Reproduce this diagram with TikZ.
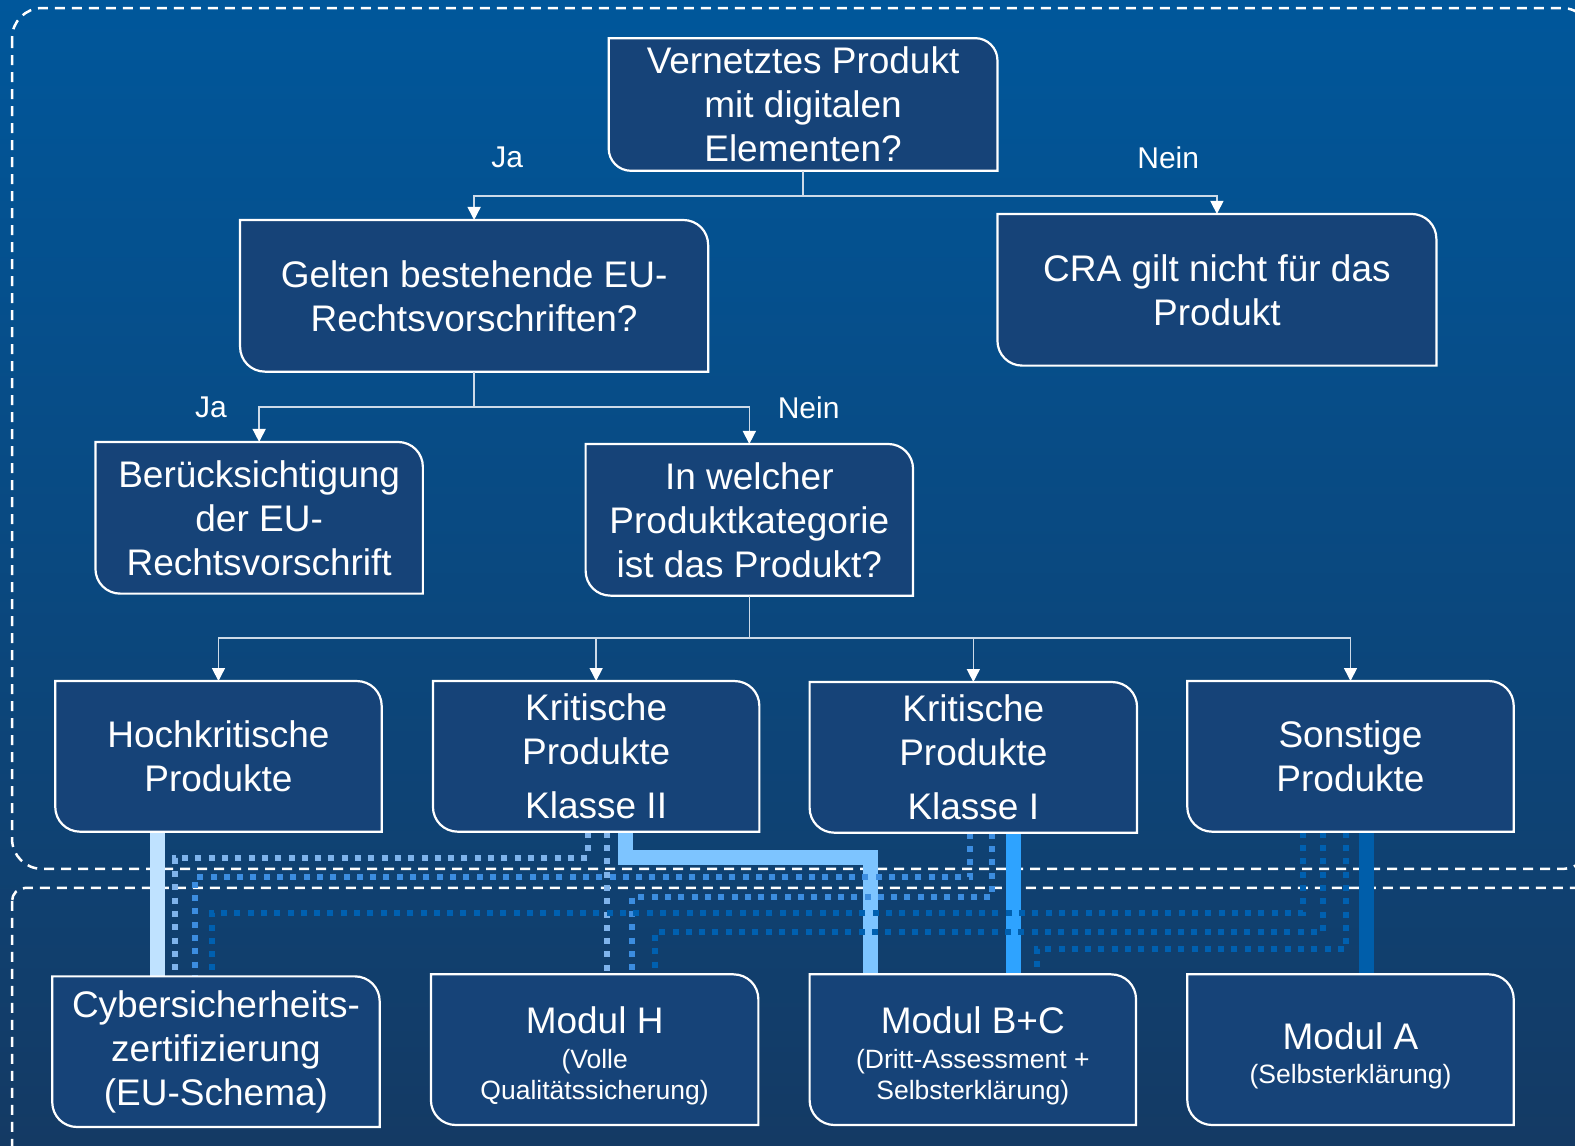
\documentclass[tikz,border=0pt]{standalone}
\usepackage{fontspec}
\setmainfont{Liberation Sans}
\usetikzlibrary{arrows.meta,calc,fit}
\definecolor{bgtop}{RGB}{0,87,155}
\definecolor{bgmid}{RGB}{10,72,128}
\definecolor{bgbot}{RGB}{20,58,100}
\definecolor{boxfill}{RGB}{22,67,120}
\definecolor{connc}{RGB}{205,218,232}
\definecolor{cA}{RGB}{191,226,255}
\definecolor{cB}{RGB}{125,196,255}
\definecolor{cC}{RGB}{46,163,255}
\definecolor{cD}{RGB}{0,94,170}
\definecolor{dA}{RGB}{127,179,235}
\definecolor{dB}{RGB}{60,141,224}
\definecolor{dC}{RGB}{0,96,176}
\newcommand\mainf{\fontsize{37}{44}\selectfont}
\newcommand\subf{\fontsize{26.5}{31}\selectfont}
\newcommand\lblf{\fontsize{30}{36}\selectfont}
\pgfdeclarelayer{bgl}
\pgfdeclarelayer{linel}
\pgfdeclarelayer{boxl}
\pgfsetlayers{bgl,linel,boxl,main}
\tikzset{
 boxnode/.style={inner sep=0pt, outer sep=0pt},
 txt/.style={inner sep=0pt, align=center, text=white, font=\mainf},
 modtxt/.style={txt, yshift=-6pt},
 boxline/.style={draw=white, line width=2.2pt, fill=boxfill},
 conn/.style={draw=connc, line width=1.5pt},
 arr/.style={conn, -{Triangle[width=13pt,length=13pt,fill=white,color=white]}},
 lbl/.style={text=white, font=\lblf, inner sep=0pt},
 thickln/.style={line width=15pt},
 dotln/.style={line width=6pt, dash pattern=on 6pt off 7.3pt},
 region/.style={draw=white, line width=2.5pt, dash pattern=on 10pt off 7pt},
}
% outline with rounded top-right and bottom-left corners
\newcommand\crboxline[3]{%
 \path[boxline] (#1.north west) -- ([xshift=-#2]#1.north east)
   .. controls ([xshift=-#3]#1.north east) and ([yshift=-#3]#1.north east) .. ([yshift=-#2]#1.north east)
   -- (#1.south east) -- ([xshift=#2]#1.south west)
   .. controls ([xshift=#3]#1.south west) and ([yshift=#3]#1.south west) .. ([yshift=#2]#1.south west)
   -- cycle;}
\begin{document}
\begin{tikzpicture}[x=1.00446pt,y=-1.00446pt]
\useasboundingbox (0,0) rectangle (1568,1140);
\begin{pgfonlayer}{bgl}
\shade[top color=bgtop, middle color=bgmid, bottom color=bgbot] (0,0) rectangle (1568,1140);
\draw[region, rounded corners=30pt] (12,8) rectangle (1585,865);
\draw[region, rounded corners=13pt] (12,884) rectangle (1600,1200);
\end{pgfonlayer}

% boxes
\node[boxnode, fit={(606,38) (993,170)}] (b1) {};
\node[boxnode, fit={(239,219) (705,370)}] (b2) {};
\node[boxnode, fit={(993,213) (1430,364)}] (b3) {};
\node[boxnode, fit={(95,440) (421,591)}] (b4) {};
\node[boxnode, fit={(583,442) (909,593)}] (b5) {};
\node[boxnode, fit={(55,678) (380,828)}] (b6) {};
\node[boxnode, fit={(431,678) (756,828)}] (b7) {};
\node[boxnode, fit={(806,679) (1132,829)}] (b8) {};
\node[boxnode, fit={(1182,678) (1507,828)}] (b9) {};
\node[boxnode, fit={(52,972) (378,1122)}] (b10) {};
\node[boxnode, fit={(429,970) (755,1120)}] (b11) {};
\node[boxnode, fit={(806,970) (1131,1120)}] (b12) {};
\node[boxnode, fit={(1182,970) (1507,1120)}] (b13) {};

\begin{pgfonlayer}{boxl}
\crboxline{b1}{22pt}{10pt}
\foreach \n in {b2,b3,b4,b5,b6,b7,b8,b9,b10,b11,b12,b13}{\crboxline{\n}{25pt}{11pt}}
\end{pgfonlayer}

% texts
\node[txt] (t1) at (b1.center) {Vernetztes Produkt\\mit digitalen\\Elementen?};
\node[txt] (t2) at (b2.center) {Gelten bestehende EU-\\Rechtsvorschriften?};
\node[txt] (t3) at (b3.center) {CRA gilt nicht für das\\Produkt};
\node[txt] (t4) at (b4.center) {Berücksichtigung\\der EU-\\Rechtsvorschrift};
\node[txt] (t5) at (b5.center) {In welcher\\Produktkategorie\\ist das Produkt?};
\node[txt] (t6) at (b6.center) {Hochkritische\\Produkte};
\node[txt] (t7) at (b7.center) {Kritische\\Produkte\\[10pt]Klasse II};
\node[txt] (t8) at (b8.center) {Kritische\\Produkte\\[10pt]Klasse I};
\node[txt] (t9) at (b9.center) {Sonstige\\Produkte};
\node[txt] (t10) at (b10.center) {Cybersicherheits-\\zertifizierung\\(EU-Schema)};
\node[modtxt] (t11) at (b11.center) {Modul H\\[-9pt]\subf (Volle\\[-13pt]\subf Qualitätssicherung)};
\node[modtxt] (t12) at (b12.center) {Modul B+C\\[-9pt]\subf (Dritt-Assessment +\\[-13pt]\subf Selbsterklärung)};
\node[modtxt] (t13) at (b13.center) {Modul A\\[-10pt]\subf (Selbsterklärung)};

% labels
\node[lbl] (ja1) at (505,157) {Ja};
\node[lbl] (nein1) at (1163,157) {Nein};
\node[lbl] (ja2) at (210,406) {Ja};
\node[lbl] (nein2) at (805,406) {Nein};

% decision connectors
\coordinate (j1) at (799.5,195);
\coordinate (j2) at (472,405);
\coordinate (j3) at (746,635);
\draw[conn] (b1.south) -- (j1);
\draw[arr] (j1) -| (b2.north);
\draw[arr] (j1) -| (b3.north);
\draw[conn] (b2.south) -- (j2);
\draw[arr] (j2) -| (b4.north);
\draw[arr] (j2) -| (b5.north);
\draw[conn] (b5.south) -- (j3);
\draw[arr] (j3) -| (b6.north);
\draw[arr] (j3) -| (b7.north);
\draw[arr] (j3) -| (b8.north);
\draw[arr] (j3) -| (b9.north);

% assessment paths
\begin{pgfonlayer}{linel}
\draw[thickln, draw=cA] (b6.south -| 157,0) -- (b10.north -| 157,0);
\draw[thickln, draw=cB] (b7.south -| 623,0) |- (867,854) -- (b12.north -| 867,0);
\draw[thickln, draw=cC] (b8.south -| 1009,0) -- (b12.north -| 1009,0);
\draw[thickln, draw=cD] (b9.south -| 1360,0) -- (b13.north -| 1360,0);
\draw[dotln, draw=dA] (b7.south -| 585,0) |- (174,854) -- (b10.north -| 174,0);
\draw[dotln, draw=dA] (b7.south -| 604,0) -- (b11.north -| 604,0);
\draw[dotln, draw=dB] (b8.south -| 966,0) |- (194,873) -- (b10.north -| 194,0);
\draw[dotln, draw=dB] (b8.south -| 988,0) |- (629,893) -- (b11.north -| 629,0);
\draw[dotln, draw=dC] (b9.south -| 1297,0) |- (211,909) -- (b10.north -| 211,0);
\draw[dotln, draw=dC] (b9.south -| 1317,0) |- (652,928) -- (b11.north -| 652,0);
\draw[dotln, draw=dC] (b9.south -| 1340,0) |- (1032,945) -- (b12.north -| 1032,0);
\end{pgfonlayer}
\end{tikzpicture}
\end{document}
